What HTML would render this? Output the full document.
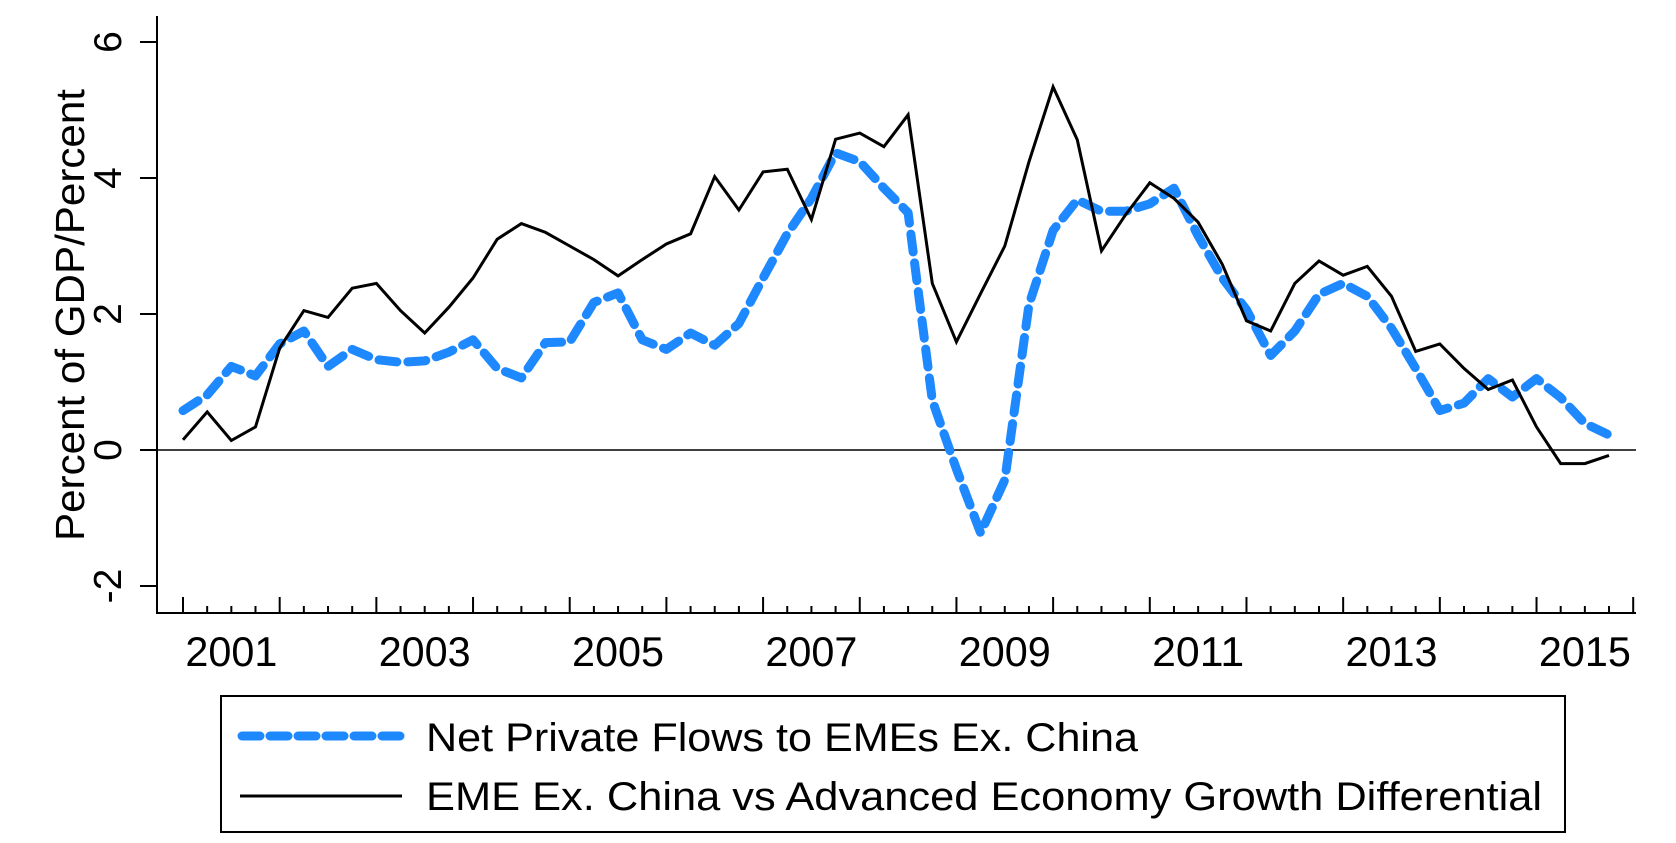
<!DOCTYPE html>
<html><head><meta charset="utf-8"><style>
html,body{margin:0;padding:0;background:#fff;}
svg{display:block;font-family:"Liberation Sans",Arial,sans-serif;}
</style></head><body>
<svg id="chart" width="1676" height="843" viewBox="0 0 1676 843">
<g id="axes"></g>
<g id="series"></g>
<g>
<rect x="221" y="696" width="1344" height="136" fill="#fff" stroke="#000" stroke-width="2"/>
<line x1="242" y1="736" x2="400" y2="736" stroke="#1e88ff" stroke-width="9" stroke-dasharray="18,10" stroke-linecap="round"/>
<text x="426" y="751" font-size="40" textLength="712" lengthAdjust="spacingAndGlyphs">Net Private Flows to EMEs Ex. China</text>
<line x1="240" y1="796" x2="402" y2="796" stroke="#000" stroke-width="3"/>
<text x="426" y="810" font-size="40" textLength="1116" lengthAdjust="spacingAndGlyphs">EME Ex. China vs Advanced Economy Growth Differential</text>
</g>
<text transform="translate(84,315) rotate(-90)" text-anchor="middle" font-size="41" textLength="452" lengthAdjust="spacingAndGlyphs">Percent of GDP/Percent</text>
</svg>
<script>
const yTicks = [-2, 0, 2, 4, 6];
const xLabels = ["2001","2003","2005","2007","2009","2011","2013","2015"];
const growthDiff = [0.15,0.56,0.14,0.34,1.5,2.05,1.95,2.38,2.45,2.05,1.72,2.1,2.53,3.1,3.33,3.2,3.0,2.8,2.56,2.8,3.03,3.18,4.02,3.53,4.09,4.13,3.39,4.57,4.66,4.46,4.93,2.45,1.59,2.3,3.0,4.24,5.34,4.56,2.93,3.46,3.93,3.7,3.35,2.73,1.9,1.75,2.45,2.78,2.57,2.7,2.26,1.45,1.56,1.2,0.89,1.03,0.34,-0.2,-0.2,-0.08];
const netFlows = [0.58,0.81,1.23,1.09,1.56,1.75,1.23,1.48,1.33,1.29,1.31,1.44,1.62,1.2,1.06,1.58,1.59,2.17,2.31,1.62,1.48,1.72,1.54,1.86,2.53,3.18,3.7,4.37,4.24,3.85,3.49,0.73,-0.28,-1.22,-0.44,2.14,3.23,3.68,3.51,3.51,3.62,3.85,3.15,2.53,2.06,1.39,1.75,2.29,2.45,2.26,1.79,1.2,0.58,0.69,1.05,0.78,1.05,0.77,0.39,0.22];

const NS="http://www.w3.org/2000/svg";
const X0=183, QW=24.17, Y0=450, UNIT=68;
function xs(i){return X0+i*QW;}
function ys(v){return Y0-v*UNIT;}
function mk(tag,attrs,parent){const e=document.createElementNS(NS,tag);for(const k in attrs)e.setAttribute(k,attrs[k]);parent.appendChild(e);return e;}
const axes=document.getElementById('axes');
const series=document.getElementById('series');

let e=mk('line',{x1:157,y1:16,x2:157,y2:614,stroke:'#000','stroke-width':2},axes);


e=mk('line',{x1:156,y1:613,x2:1636,y2:613,stroke:'#000','stroke-width':2},axes);


e=mk('line',{x1:157,y1:ys(0),x2:1636,y2:ys(0),stroke:'#000','stroke-width':1.5},axes);



yTicks.forEach(v=>{
  const t=mk('line',{x1:140,y1:ys(v),x2:157,y2:ys(v),stroke:'#000','stroke-width':2},axes);
  
  
  const l=mk('text',{transform:`translate(121,${ys(v)}) rotate(-90)`,'text-anchor':'middle','font-size':39},axes);
  l.textContent=String(v);
  
  
});
const nQ=growthDiff.length+1;
for(let i=0;i<=nQ-1;i++){
  const major=i%4===0;
  const t=mk('line',{x1:xs(i),y1:613,x2:xs(i),y2:major?597:606,stroke:'#000','stroke-width':2},axes);
  
  
}
xLabels.forEach((lab,k)=>{
  const l=mk('text',{x:xs(k*8+2),y:666,'text-anchor':'middle','font-size':42,textLength:92,lengthAdjust:'spacingAndGlyphs'},axes);
  l.textContent=lab;
  
  
});
function pts(arr){return arr.map((v,i)=>xs(i).toFixed(1)+','+ys(v).toFixed(1)).join(' ');}
e=mk('polyline',{points:pts(netFlows),fill:'none',stroke:'#1e88ff','stroke-width':9,'stroke-dasharray':'18,11','stroke-linecap':'round','stroke-linejoin':'round'},series);


e=mk('polyline',{points:pts(growthDiff),fill:'none',stroke:'#000','stroke-width':3,'stroke-linejoin':'miter'},series);


</script>
</body></html>
